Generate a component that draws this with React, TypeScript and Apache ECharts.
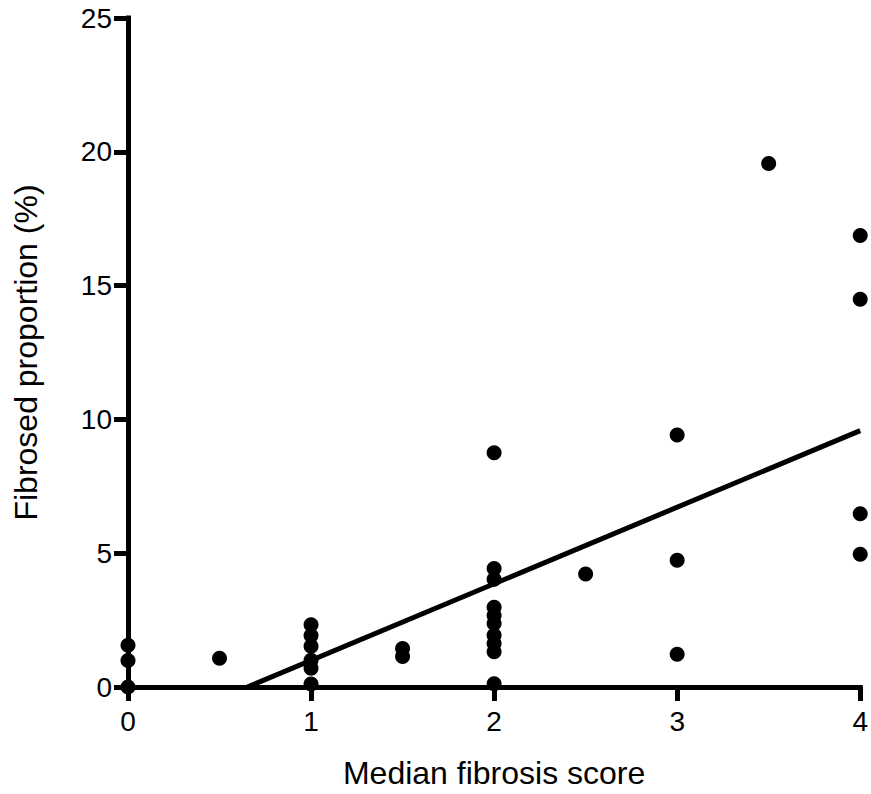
import React, { useEffect, useRef } from "react";
import * as echarts from "echarts";

// Scatter data: median fibrosis score (x) vs fibrosed proportion % (y)
const scoreX = [
  0, 0, 0,
  0.5,
  1, 1, 1, 1, 1, 1,
  1.5, 1.5,
  2, 2, 2, 2, 2, 2, 2, 2, 2, 2,
  2.5,
  3, 3, 3,
  3.5,
  4, 4, 4, 4,
];
const proportionY = [
  1.56, 0.99, 0.0,
  1.07,
  2.33, 1.92, 1.52, 1.0, 0.7, 0.11,
  1.44, 1.14,
  8.75, 4.43, 4.03, 2.98, 2.67, 2.37, 1.93, 1.63, 1.32, 0.12,
  4.22,
  9.42, 4.74, 1.22,
  19.56,
  16.87, 14.49, 6.47, 4.96,
];

// Linear regression line end points
const fitX = [0.652, 4];
const fitY = [0, 9.58];

const xTicks = [0, 1, 2, 3, 4];
const yTicks = [0, 5, 10, 15, 20, 25];

const xTitle = "Median fibrosis score";
const yTitle = "Fibrosed proportion (%)";

const FONT = "Arial";

export default function App() {
  const ref = useRef<HTMLDivElement>(null);

  useEffect(() => {
    document.body.style.margin = "0";
    if (!ref.current) return;
    const chart = echarts.init(ref.current, undefined, { renderer: "svg" });

    const axisCommon = {
      type: "value" as const,
      splitLine: { show: false },
      axisLine: { show: true, lineStyle: { color: "#000", width: 5, cap: "square" } },
      axisTick: { show: true, length: 14, lineStyle: { color: "#000", width: 5 } },
      axisLabel: { color: "#000", fontSize: 28, fontFamily: FONT },
      nameTextStyle: { color: "#000", fontSize: 32, fontFamily: FONT },
    };

    chart.setOption({
      animation: false,
      backgroundColor: "#fff",
      grid: { left: 128, right: 10, top: 18, bottom: 100, containLabel: false },
      xAxis: {
        ...axisCommon,
        min: xTicks[0],
        max: xTicks[xTicks.length - 1],
        interval: 1,
        name: xTitle,
        nameLocation: "middle",
        nameGap: 70,
        axisLabel: { ...axisCommon.axisLabel, margin: 20 },
      },
      yAxis: {
        ...axisCommon,
        min: yTicks[0],
        max: yTicks[yTicks.length - 1],
        interval: 5,
        name: yTitle,
        nameLocation: "middle",
        nameGap: 86,
        axisLabel: { ...axisCommon.axisLabel, margin: 16 },
      },
      series: [
        {
          type: "line",
          data: fitX.map((x, i) => [x, fitY[i]]),
          symbol: "none",
          lineStyle: { color: "#000", width: 5 },
          z: 3,
          clip: false,
        },
        {
          type: "scatter",
          data: scoreX.map((x, i) => [x, proportionY[i]]),
          symbol: "circle",
          symbolSize: 15,
          itemStyle: { color: "#000", opacity: 1 },
          z: 4,
          clip: false,
        },
      ],
    });

    return () => chart.dispose();
  }, []);

  return <div ref={ref} style={{ width: 871, height: 794 }} />;
}
